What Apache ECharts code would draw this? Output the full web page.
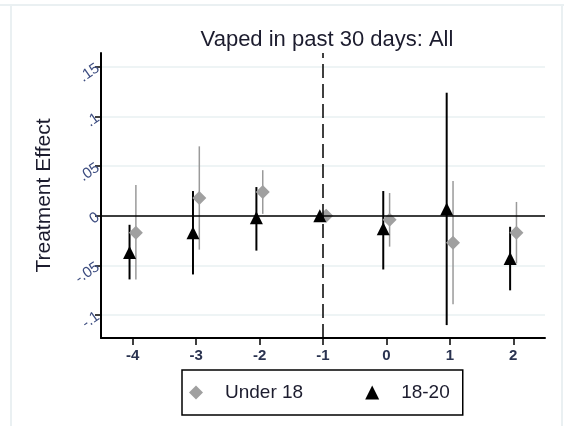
<!DOCTYPE html>
<html>
<head>
<meta charset="utf-8">
<script src="https://cdn.jsdelivr.net/npm/echarts@6/dist/echarts.min.js"></script>
<style>
  html, body { margin:0; padding:0; background:#fff; }
  #chart { width:564px; height:426px; }
</style>
</head>
<body>
<div id="chart"></div>
<script>
// event time (periods relative to treatment)
const periods = [-4, -3, -2, -1, 0, 1, 2]
const yTicks = [-0.1, -0.05, 0, 0.05, 0.1, 0.15]

// Under 18 : point estimate, lower CI, upper CI
const under18 = [-0.017, 0.018, 0.024, 0, -0.004, -0.027, -0.017]
const under18Lo = [-0.064, -0.034, 0.002, null, -0.031, -0.089, -0.048]
const under18Hi = [0.031, 0.070, 0.046, null, 0.023, 0.035, 0.014]

// 18-20
const age1820 = [-0.037, -0.017, -0.002, 0, -0.013, 0.007, -0.043]
const age1820Lo = [-0.064, -0.059, -0.035, null, -0.054, -0.110, -0.075]
const age1820Hi = [-0.009, 0.025, 0.029, null, 0.025, 0.124, -0.011]

const shift = 0.05

function pts(vals, off) {
  return periods.map((p, i) => [p + off, vals[i]])
}
function bars(lo, hi, off) {
  return periods.map((p, i) => [p + off, lo[i], hi[i]]).filter(d => d[1] != null)
}
function ciSeries(name, data, color, width) {
  return {
    name: name, type: 'custom', data: data, silent: true,
    renderItem: function(params, api) {
      const a = api.coord([api.value(0), api.value(1)])
      const b = api.coord([api.value(0), api.value(2)])
      return { type: 'line', shape: { x1: a[0], y1: a[1], x2: b[0], y2: b[1] },
               style: { stroke: color, lineWidth: width } }
    },
    encode: { x: 0, y: [1, 2] }, z: 2
  }
}

const chart = echarts.init(document.getElementById('chart'))
chart.setOption({
  animation: false,
  title: {
    text: 'Vaped in past 30 days: All', left: 322, top: 24, textAlign: 'center',
    textStyle: { fontFamily: 'Liberation Sans', fontSize: 22, fontWeight: 'normal', color: '#1c1c2e' }
  },
  graphic: [
    { type: 'line', shape: { x1: 0, y1: 5, x2: 564, y2: 5 }, style: { stroke: '#eaf0f2', lineWidth: 2 } },
    { type: 'line', shape: { x1: 11, y1: 5, x2: 11, y2: 426 }, style: { stroke: '#eaf0f2', lineWidth: 2 } },
    { type: 'line', shape: { x1: 562, y1: 5, x2: 562, y2: 426 }, style: { stroke: '#eaf0f2', lineWidth: 2 } }
  ],
  grid: { left: 101, right: 19, top: 53, bottom: 88 },
  xAxis: {
    type: 'value', min: -4.5, max: 2.5,
    axisLine: { onZero: false, lineStyle: { color: '#000', width: 2 } },
    axisTick: { customValues: periods, length: 7, lineStyle: { color: '#000', width: 1.5 } },
    axisLabel: { customValues: periods, margin: 10, fontFamily: 'Liberation Sans', fontSize: 15,
                 fontWeight: 'bold', color: '#2a3350', formatter: v => String(v) },
    splitLine: { show: false }
  },
  yAxis: {
    type: 'value', min: -0.123, max: 0.164,
    name: 'Treatment Effect', nameLocation: 'middle', nameGap: 46, nameRotate: 90,
    nameTextStyle: { fontFamily: 'Liberation Sans', fontSize: 21, color: '#1c1c2e' },
    axisLine: { onZero: false, lineStyle: { color: '#000', width: 2 } },
    axisTick: { customValues: yTicks, length: 6, lineStyle: { color: '#000', width: 1.5 } },
    axisLabel: { customValues: yTicks, rotate: 35, margin: 3, fontFamily: 'Liberation Sans',
                 fontSize: 15, color: '#3d4d80',
                 formatter: v => (Math.round(v * 100) / 100).toString().replace('0.', '.') },
    splitLine: { show: true, lineStyle: { color: '#e9f1f2', width: 1.5 } }
  },
  legend: {
    left: 182, top: 370, orient: 'horizontal',
    data: [{ name: 'Under 18', icon: 'diamond' }, { name: '18-20', icon: 'triangle' }],
    itemWidth: 14, itemHeight: 14, itemGap: 62,
    padding: [13, 13, 13, 7], borderColor: '#000', borderWidth: 1.5, borderRadius: 0,
    textStyle: { fontFamily: 'Liberation Sans', fontSize: 19, color: '#1c1c2e', padding: [0, 0, 0, 17] }
  },
  series: [
    ciSeries('Under 18 CI', bars(under18Lo, under18Hi, shift), '#9a9a9a', 1.5),
    ciSeries('18-20 CI', bars(age1820Lo, age1820Hi, -shift), '#000', 2),
    {
      name: 'Under 18', type: 'scatter', data: pts(under18, shift),
      symbol: 'diamond', symbolSize: 14, itemStyle: { color: '#a0a0a0', opacity: 1 }, z: 3,
      markLine: {
        silent: true, symbol: 'none', label: { show: false },
        data: [
          { yAxis: 0, lineStyle: { color: '#000', width: 1.5, type: 'solid' } },
          { xAxis: -1, lineStyle: { color: '#000', width: 1.5, type: [14, 6] } }
        ]
      }
    },
    {
      name: '18-20', type: 'scatter', data: pts(age1820, -shift),
      symbol: 'triangle', symbolSize: 13, itemStyle: { color: '#000', opacity: 1 }, z: 4
    }
  ]
})
</script>
</body>
</html>
